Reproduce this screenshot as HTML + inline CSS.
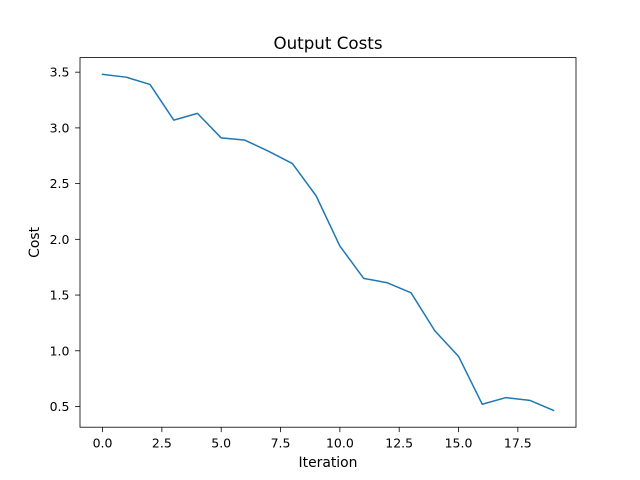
<!DOCTYPE html>
<html><head><meta charset="utf-8"><style>
body{margin:0;background:#fff;}
svg{display:block;font-family:"DejaVu Sans","Liberation Sans",sans-serif;}
</style></head><body>
<svg id="chart" width="640" height="480"></svg>
<script>
const iterations = [0,1,2,3,4,5,6,7,8,9,10,11,12,13,14,15,16,17,18,19];
const costs = [3.48,3.455,3.39,3.07,3.13,2.91,2.89,2.79,2.68,2.39,1.94,1.65,1.61,1.52,1.18,0.95,0.52,0.58,0.555,0.465];
const xTicks = [0,2.5,5,7.5,10,12.5,15,17.5];
const xTickLabels = ["0.0","2.5","5.0","7.5","10.0","12.5","15.0","17.5"];
const yTicks = [0.5,1,1.5,2,2.5,3,3.5];
const yTickLabels = ["0.5","1.0","1.5","2.0","2.5","3.0","3.5"];

const L=80,R=576,T=57.6,B=427.2;
const xmin=Math.min(...iterations),xmax=Math.max(...iterations);
const xm=(xmax-xmin)*0.05;
const ymin0=Math.min(...costs),ymax0=Math.max(...costs);
const ym=(ymax0-ymin0)*0.05;
const X=v=>L+(v-(xmin-xm))/((xmax+xm)-(xmin-xm))*(R-L);
const Y=v=>B-(v-(ymin0-ym))/((ymax0+ym)-(ymin0-ym))*(B-T);
const NS="http://www.w3.org/2000/svg";
const svg=document.getElementById('chart');
function mk(tag,attrs,text){const e=document.createElementNS(NS,tag);for(const k in attrs)e.setAttribute(k,attrs[k]);if(text!==undefined)e.textContent=text;svg.appendChild(e);return e;}

let e;
e=mk('text',{x:(L+R)/2,y:49,'text-anchor':'middle','font-size':'16.7'},'Output Costs');



xTicks.forEach((t,i)=>{
  const x=X(t);
  e=mk('line',{x1:x,x2:x,y1:B,y2:B+4.9,stroke:'#000','stroke-width':0.8});
  
  
  e=mk('text',{x:x,y:B+20.5,'text-anchor':'middle','font-size':'12.5'},xTickLabels[i]);
  
  
});
yTicks.forEach((t,i)=>{
  const y=Y(t);
  e=mk('line',{x1:L-4.9,x2:L,y1:y,y2:y,stroke:'#000','stroke-width':0.8});
  
  
  e=mk('text',{x:L-10.5,y:y+4.5,'text-anchor':'end','font-size':'12.5'},yTickLabels[i]);
  
  
});

e=mk('polyline',{points:iterations.map((v,i)=>X(v)+','+Y(costs[i])).join(' '),fill:'none',stroke:'#1f77b4','stroke-width':1.5,'stroke-linejoin':'round','stroke-linecap':'square'});



e=mk('rect',{x:L,y:T,width:R-L,height:B-T,fill:'none',stroke:'#000','stroke-width':0.8});



e=mk('text',{x:(L+R)/2,y:467,'text-anchor':'middle','font-size':'13.9'},'Iteration');


e=mk('text',{x:0,y:0,'text-anchor':'middle','font-size':'13.9',transform:'translate(39,'+((T+B)/2)+') rotate(-90)'},'Cost');


</script>
</body></html>
